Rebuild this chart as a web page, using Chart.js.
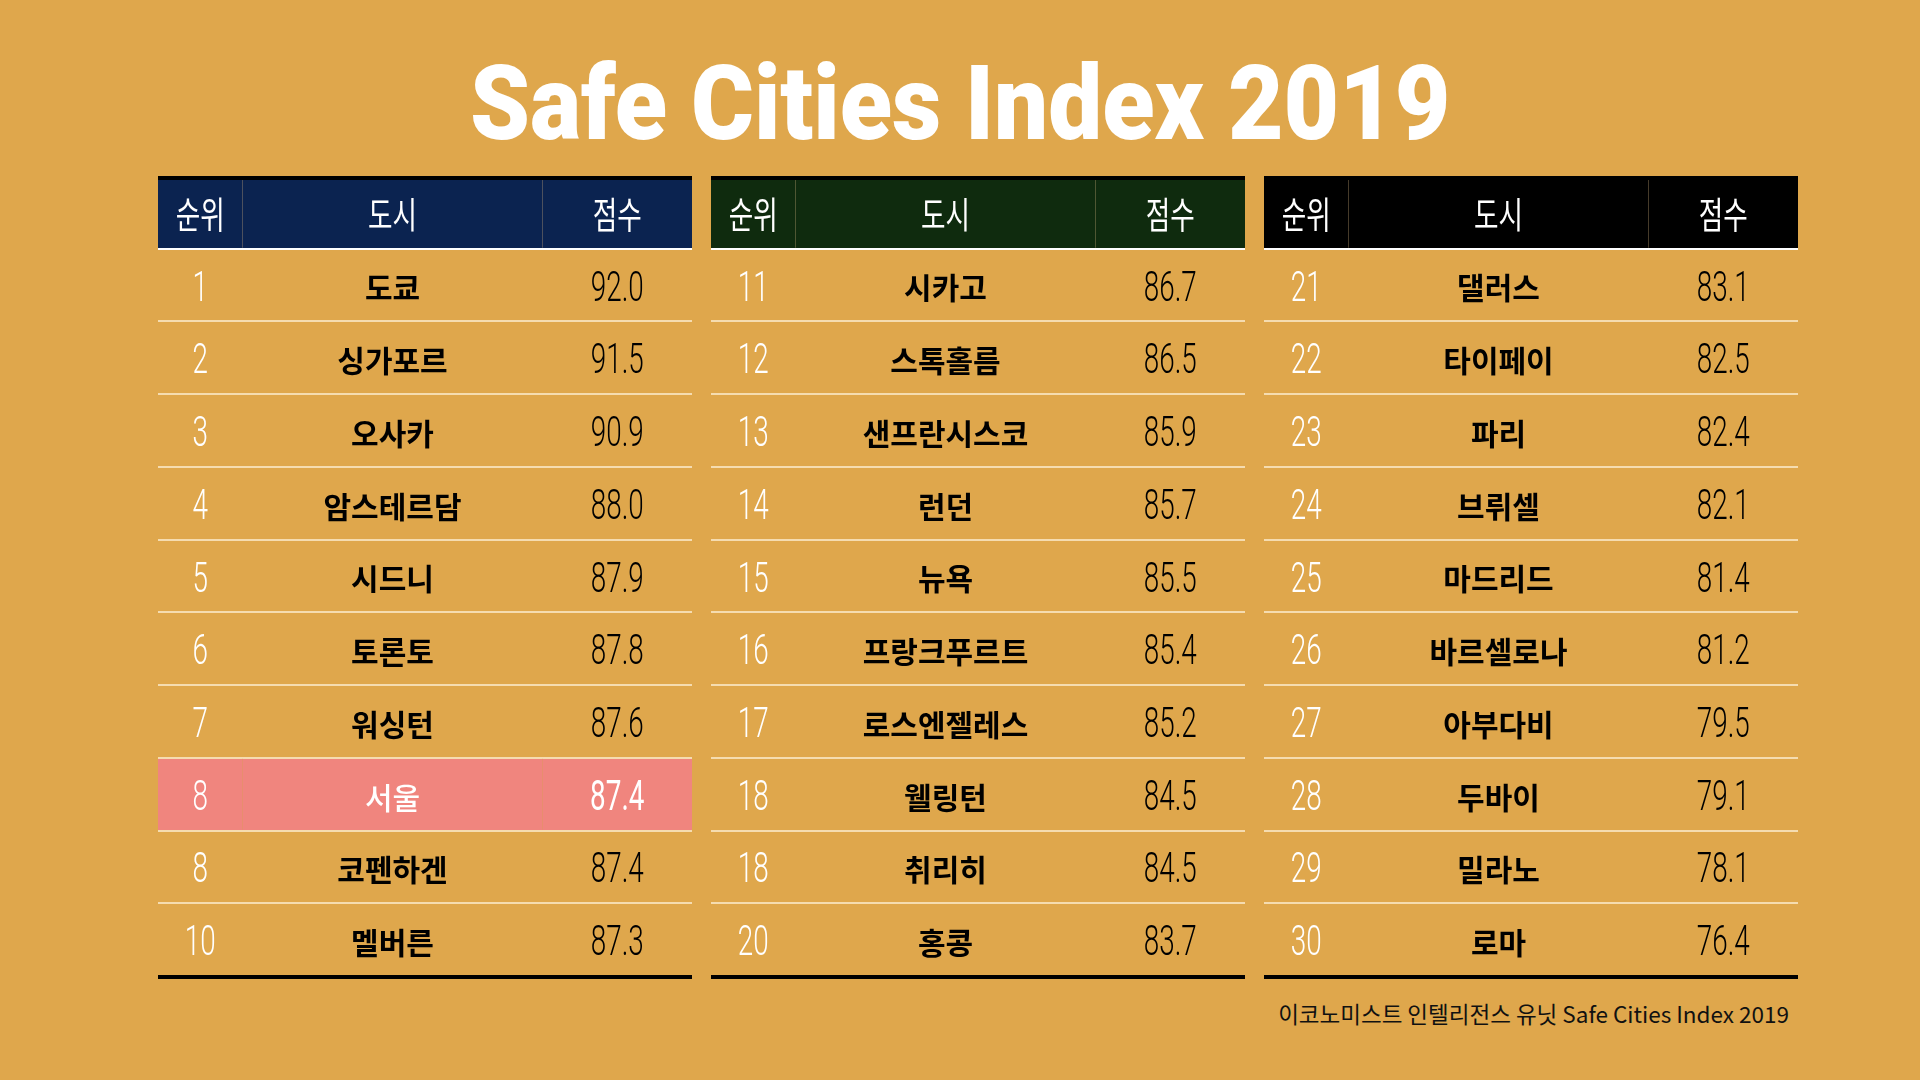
<!DOCTYPE html>
<html>
<head>
<meta charset="utf-8">
<title>Safe Cities Index 2019</title>
<script src="https://cdn.jsdelivr.net/npm/chart.js@4.4.1/dist/chart.umd.min.js"></script>
<style>
    html, body { margin: 0; padding: 0; }
    body { width: 1920px; height: 1080px; background: #dfa74c; position: relative; overflow: hidden; }
    #title { position: absolute; left: 0; width: 1920px; top: 40px; text-align: center; color: #fff;
             font-family: Roboto, "Noto Sans", sans-serif; font-weight: 900; font-size: 104px; line-height: 128px; }
    #title span { display: inline-block; transform-origin: center; }
    #source { position: absolute; right: 131px; top: 997px; font-family: "Noto Sans CJK KR", sans-serif;
              font-size: 22.5px; color: #111; }
    canvas { position: absolute; top: 176px; }
</style>
</head>
<body>
<div id="title"><span>Safe Cities Index 2019</span></div>
<canvas id="t1" width="534" height="806" style="left:158px"></canvas>
<canvas id="t2" width="534" height="806" style="left:711px"></canvas>
<canvas id="t3" width="534" height="806" style="left:1264px"></canvas>
<div id="source">이코노미스트 인텔리전스 유닛 Safe Cities Index 2019</div>
<script>
    // data
    var headers = ["순위", "도시", "점수"];
    var ranks = [1, 2, 3, 4, 5, 6, 7, 8, 8, 10,
                 11, 12, 13, 14, 15, 16, 17, 18, 18, 20,
                 21, 22, 23, 24, 25, 26, 27, 28, 29, 30];
    var cities = ["도쿄", "싱가포르", "오사카", "암스테르담", "시드니", "토론토", "워싱턴", "서울", "코펜하겐", "멜버른",
                  "시카고", "스톡홀름", "샌프란시스코", "런던", "뉴욕", "프랑크푸르트", "로스엔젤레스", "웰링턴", "취리히", "홍콩",
                  "댈러스", "타이페이", "파리", "브뤼셀", "마드리드", "바르셀로나", "아부다비", "두바이", "밀라노", "로마"];
    var scores = [92.0, 91.5, 90.9, 88.0, 87.9, 87.8, 87.6, 87.4, 87.4, 87.3,
                  86.7, 86.5, 85.9, 85.7, 85.5, 85.4, 85.2, 84.5, 84.5, 83.7,
                  83.1, 82.5, 82.4, 82.1, 81.4, 81.2, 79.5, 79.1, 78.1, 76.4];
    var highlightCity = "서울";
    var headerColors = ["#0b2350", "#0f2b0e", "#000000"];
    var rowsPerTable = 10;

    // column edges in px along the x scale
    var colEdges = [0, 84.5, 384.5, 534];
    var highlightColor = "#f0857e";

    // fit title width
    var tspan = document.querySelector("#title span");
    tspan.style.transform = "scaleX(" + (980 / tspan.offsetWidth) + ")";

    var numFont = "300 42px Roboto";
    var mctx = document.createElement("canvas").getContext("2d");
    mctx.font = numFont;
    var numScale = 53 / mctx.measureText("84.5").width;

    function drawText(ctx, txt, x, y, font, color, sx) {
        ctx.save();
        ctx.font = font;
        ctx.fillStyle = color;
        ctx.textAlign = "center";
        ctx.textBaseline = "middle";
        ctx.translate(x, y);
        ctx.scale(sx, 1);
        ctx.fillText(txt, 0, 0);
        ctx.restore();
    }

    var tablePlugin = {
        id: "tableText",
        afterDatasetsDraw: function (chart) {
            var ctx = chart.ctx;
            var xs = chart.scales.x, ys = chart.scales.y;
            var area = chart.chartArea;
            var info = chart.options.plugins.tableText;
            var rowH = ys.getPixelForValue(1) - ys.getPixelForValue(0);
            var centers = [];
            for (var c = 0; c < 3; c++) centers.push(xs.getPixelForValue((colEdges[c] + colEdges[c + 1]) / 2));

            // row separators
            for (var r = 1; r <= rowsPerTable; r++) {
                var yb = ys.getPixelForValue(r) - rowH / 2;
                ctx.fillStyle = r == 1 ? "#ffffff" : "#f5dcb0";
                ctx.fillRect(area.left, Math.round(yb) - 1, area.right - area.left, 2);
            }
            // top and bottom rules
            ctx.fillStyle = "#000";
            ctx.fillRect(area.left, area.top, area.right - area.left, 4);
            ctx.fillRect(area.left, ys.getPixelForValue(rowsPerTable) + rowH / 2 - 1, area.right - area.left, 4);

            // header dividers
            var hTop = area.top + 4, hBot = ys.getPixelForValue(0) + rowH / 2 - 1;
            ctx.fillStyle = "rgba(200,170,120,0.35)";
            for (var d = 1; d < 3; d++) {
                ctx.fillRect(xs.getPixelForValue(colEdges[d]) - 0.5, hTop, 1, hBot - hTop);
            }
            headers.forEach(function (h, i) {
                drawText(ctx, h, centers[i], ys.getPixelForValue(0) + 3, "400 37px 'Noto Sans CJK KR'", "#fff", 0.72);
            });

            for (var i = 0; i < rowsPerTable; i++) {
                var k = info.offset + i;
                var y = ys.getPixelForValue(i + 1);
                var hl = cities[k] == highlightCity;
                if (hl) {
                    ctx.fillStyle = "rgba(222,150,90,0.45)";
                    for (var d2 = 1; d2 < 3; d2++) {
                        ctx.fillRect(xs.getPixelForValue(colEdges[d2]) - 0.5, y - rowH / 2 + 1, 1, rowH - 2);
                    }
                }
                drawText(ctx, String(ranks[k]), centers[0], y + 5, numFont, "#fff", numScale);
                drawText(ctx, cities[k], centers[1], y + 3, (hl ? "500" : "700") + " 30px 'Noto Sans CJK KR'", hl ? "#fff" : "#000", 1);
                drawText(ctx, scores[k].toFixed(1), centers[2], y + 5, hl ? "400 42px Roboto" : numFont, hl ? "#fff" : "#000", numScale);
            }
        }
    };

    ["t1", "t2", "t3"].forEach(function (id, t) {
        var offset = t * rowsPerTable;
        var labels = ["header"];
        var bgData = [colEdges[3]];
        var bgColors = [headerColors[t]];
        for (var i = 0; i < rowsPerTable; i++) {
            labels.push(String(ranks[offset + i]));
            var hl = cities[offset + i] == highlightCity;
            bgData.push(hl ? colEdges[3] : null);
            bgColors.push(hl ? highlightColor : "rgba(0,0,0,0)");
        }
        new Chart(document.getElementById(id), {
            type: "bar",
            data: {
                labels: labels,
                datasets: [{
                    data: bgData,
                    backgroundColor: bgColors,
                    borderWidth: 0,
                    barPercentage: 1,
                    categoryPercentage: 1
                }]
            },
            options: {
                indexAxis: "y",
                responsive: false,
                animation: false,
                devicePixelRatio: 1,
                layout: {padding: {top: 0, bottom: 6, left: 0, right: 0}},
                plugins: {
                    legend: {display: false},
                    tooltip: {enabled: false},
                    tableText: {offset: offset}
                },
                scales: {
                    x: {type: "linear", min: 0, max: colEdges[3], display: false},
                    y: {type: "category", display: false, offset: true}
                }
            },
            plugins: [tablePlugin]
        });
    });
</script>
</body>
</html>
